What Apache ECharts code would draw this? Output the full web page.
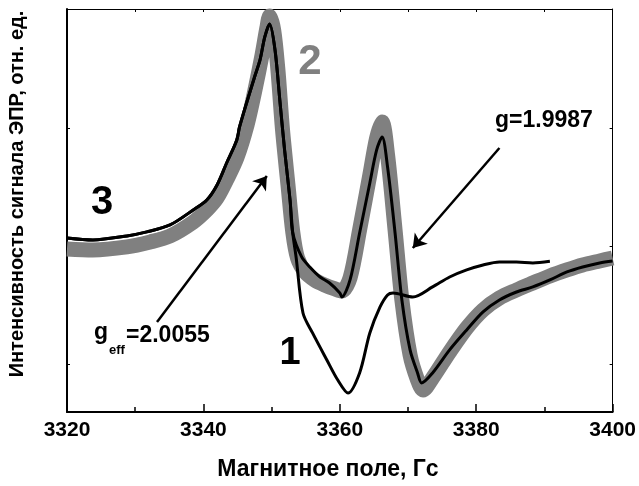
<!DOCTYPE html>
<html>
<head>
<meta charset="utf-8">
<script src="https://cdn.jsdelivr.net/npm/echarts@6/dist/echarts.min.js"></script>
<style>
  html, body { margin: 0; padding: 0; background: #fff; }
  #main { width: 639px; height: 486px; }
</style>
</head>
<body>
<div id="main"></div>
<script>
// ЭПР-спектры: [поле, Гс ; интенсивность, отн. ед.]
var curve2 = [
  [3320.0, 0.975], [3323.8, 0.966], [3328.8, 0.992], [3332.2, 1.034], [3335.1, 1.085],
  [3338.5, 1.203], [3340.5, 1.305], [3342.0, 1.407], [3343.4, 1.559], [3344.9, 1.746],
  [3346.4, 2.025], [3347.5, 2.305], [3348.6, 2.619], [3349.3, 2.847], [3349.7, 2.949],
  [3350.3, 2.831], [3350.9, 2.508], [3351.6, 1.983], [3352.4, 1.517], [3353.1, 1.119],
  [3353.8, 0.898], [3354.9, 0.780], [3356.3, 0.712], [3357.8, 0.669], [3359.3, 0.636],
  [3360.3, 0.619], [3361.5, 0.729], [3362.9, 1.136], [3364.4, 1.602], [3365.4, 1.915],
  [3366.2, 2.051], [3367.0, 1.771], [3368.1, 1.136], [3369.1, 0.542], [3370.3, 0.076],
  [3371.4, -0.136], [3372.2, -0.220], [3373.6, -0.119], [3376.1, 0.102], [3378.6, 0.305],
  [3381.0, 0.458], [3383.4, 0.559], [3385.9, 0.627], [3388.3, 0.686], [3390.8, 0.746],
  [3393.3, 0.797], [3395.6, 0.839], [3398.1, 0.873], [3400.0, 0.898]
];
var curve3 = [
  [3320.0, 1.068], [3323.8, 1.051], [3328.8, 1.085], [3331.7, 1.119], [3335.1, 1.178],
  [3338.5, 1.305], [3340.5, 1.390], [3342.0, 1.517], [3343.4, 1.703], [3344.9, 1.898],
  [3345.3, 2.010], [3347.5, 2.432], [3348.3, 2.576], [3349.0, 2.771], [3349.7, 2.881],
  [3350.5, 2.661], [3351.2, 2.237], [3351.9, 1.814], [3352.7, 1.390], [3353.1, 1.110],
  [3354.4, 0.907], [3355.6, 0.822], [3357.1, 0.737], [3358.5, 0.686], [3360.0, 0.602],
  [3360.3, 0.568], [3361.5, 0.712], [3362.9, 1.110], [3364.4, 1.534], [3365.4, 1.814],
  [3366.2, 1.924], [3367.0, 1.669], [3368.1, 1.110], [3369.1, 0.542], [3370.3, 0.119],
  [3371.4, -0.076], [3372.0, -0.161], [3373.6, -0.076], [3376.1, 0.119], [3378.6, 0.288],
  [3381.0, 0.441], [3383.4, 0.542], [3385.9, 0.610], [3388.3, 0.653], [3390.8, 0.712],
  [3393.3, 0.780], [3395.6, 0.822], [3398.1, 0.856], [3400.0, 0.873]
];
var curve1 = [
  [3320.0, 1.068], [3323.8, 1.051], [3328.8, 1.085], [3331.7, 1.119], [3335.1, 1.178],
  [3338.5, 1.305], [3340.5, 1.390], [3342.0, 1.517], [3343.4, 1.703], [3344.9, 1.898],
  [3345.3, 2.010], [3347.5, 2.432], [3348.3, 2.576], [3349.0, 2.771], [3349.7, 2.881],
  [3350.5, 2.661], [3351.2, 2.237], [3351.9, 1.814], [3352.7, 1.390], [3353.1, 1.110],
  [3353.6, 0.900], [3354.6, 0.432], [3356.0, 0.263], [3358.1, 0.034], [3359.7, -0.136],
  [3361.2, -0.246], [3362.9, -0.076], [3364.4, 0.263], [3365.9, 0.483], [3367.0, 0.585],
  [3367.8, 0.602], [3370.7, 0.568], [3373.6, 0.653], [3376.1, 0.737], [3378.6, 0.797],
  [3381.0, 0.839], [3383.4, 0.864], [3385.9, 0.864], [3388.3, 0.856], [3390.8, 0.870]
];
var yTicks = [0, 1, 2];
// стрелки-указатели (в координатах данных)
var arrowFrom = [[3333.2, 0.356], [3383.4, 1.830]];
var arrowTo = [[3349.3, 1.593], [3370.7, 0.983]];

var FONT = '"Liberation Sans", Arial, sans-serif';
var myChart = echarts.init(document.getElementById('main'));

function boldText(x, y, text, size, color, align) {
  return {
    type: 'text', x: x, y: y, silent: true,
    style: {
      text: text, fill: color || '#000',
      font: 'bold ' + size + 'px ' + FONT,
      textAlign: align || 'center', textVerticalAlign: 'middle'
    }
  };
}

myChart.setOption({
  animation: false,
  backgroundColor: '#ffffff',
  grid: { left: 67, right: 26, top: 9, bottom: 74 },
  xAxis: [
    {
      type: 'value', min: 3320, max: 3400, interval: 20,
      axisLine: { onZero: false, lineStyle: { color: '#000', width: 2 } },
      axisTick: { inside: true, length: 8, lineStyle: { color: '#000', width: 1.5 } },
      minorTick: { show: true, splitNumber: 2, length: 5, lineStyle: { color: '#000', width: 1.5 } },
      axisLabel: {
        color: '#000', fontSize: 21, fontWeight: 'bold', fontFamily: FONT, margin: 8,
        formatter: function (v) { return String(v); }
      },
      splitLine: { show: false }
    },
    {
      type: 'value', position: 'top', min: 3320, max: 3400, interval: 10,
      axisLine: { onZero: false, lineStyle: { color: '#000', width: 1 } },
      axisTick: { inside: true, length: 3, lineStyle: { color: '#000', width: 1 } },
      axisLabel: { show: false },
      splitLine: { show: false }
    }
  ],
  yAxis: [
    {
      type: 'value', min: -0.407, max: 3.008,
      axisLine: { show: true, onZero: false, lineStyle: { color: '#000', width: 2 } },
      axisTick: { show: true, inside: true, length: 3, customValues: yTicks, lineStyle: { color: '#000', width: 1 } },
      axisLabel: { show: false },
      splitLine: { show: false }
    },
    {
      type: 'value', position: 'right', min: -0.407, max: 3.008,
      axisLine: { show: true, onZero: false, lineStyle: { color: '#000', width: 1 } },
      axisTick: { show: true, inside: true, length: 3, customValues: yTicks, lineStyle: { color: '#000', width: 1 } },
      axisLabel: { show: false },
      splitLine: { show: false }
    }
  ],
  series: [
    {
      name: '2', type: 'line', data: curve2, showSymbol: false, smooth: 0.3, clip: false,
      lineStyle: { color: '#808080', width: 15, cap: 'butt', join: 'round' }
    },
    {
      name: '3', type: 'line', data: curve3, showSymbol: false, smooth: 0.3,
      lineStyle: { color: '#000', width: 3, join: 'round' }
    },
    {
      name: '1', type: 'line', data: curve1, showSymbol: false, smooth: 0.3,
      lineStyle: { color: '#000', width: 3, join: 'round' },
      markLine: {
        silent: true, animation: false,
        symbol: ['none', 'arrow'], symbolSize: 13,
        lineStyle: { color: '#000', width: 2.5, type: 'solid' },
        label: { show: false },
        data: arrowFrom.map(function (p, i) {
          return [{ coord: p }, { coord: arrowTo[i] }];
        })
      }
    }
  ],
  graphic: [
    {
      type: 'text', x: 17, y: 194, rotation: Math.PI / 2, silent: true,
      style: {
        text: 'Интенсивность сигнала ЭПР, отн. ед.', fill: '#000',
        font: 'bold 20px ' + FONT, textAlign: 'center', textVerticalAlign: 'middle'
      }
    },
    boldText(328, 470, 'Магнитное поле, Гс', 23),
    boldText(102, 203, '3', 40),
    boldText(310, 62, '2', 42, '#808080'),
    boldText(290, 354, '1', 38),
    boldText(495, 121, 'g=1.9987', 23, '#000', 'left'),
    boldText(94, 333, 'g', 23, '#000', 'left'),
    boldText(109, 350, 'eff', 13, '#000', 'left'),
    boldText(126, 336, '=2.0055', 23, '#000', 'left')
  ]
});
</script>
</body>
</html>
